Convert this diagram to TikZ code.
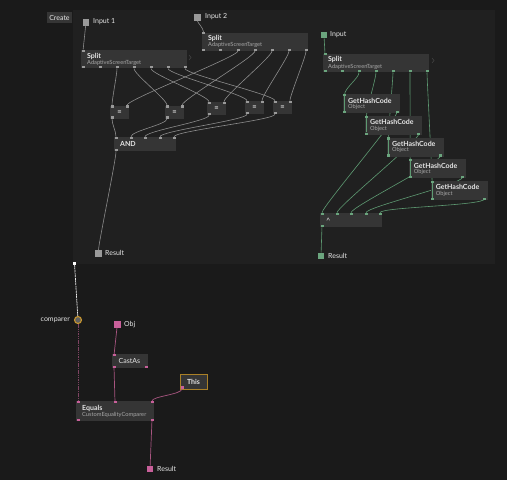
\documentclass[tikz,border=0pt]{standalone}
\usepackage{fontspec}
\setmainfont{Lato}
\definecolor{bg}{HTML}{1A1A1A}
\definecolor{panel}{HTML}{202020}
\definecolor{nodefill}{HTML}{353535}
\definecolor{gport}{HTML}{9A9A9A}
\definecolor{gwirec}{HTML}{8C8C8C}
\definecolor{grn}{HTML}{6BA57E}
\definecolor{gwirecg}{HTML}{5E9A72}
\definecolor{pnk}{HTML}{C8609A}
\definecolor{pwirec}{HTML}{A85580}
\definecolor{pdash}{HTML}{7E4462}
\definecolor{org}{HTML}{C8962E}
\definecolor{txt}{HTML}{E6E6E6}
\definecolor{subc}{HTML}{A8A8A8}
\newcommand{\wc}[3]{\draw[#1] (#2) .. controls +(0,7) and +(0,-7) .. (#3);}
\begin{document}
\begin{tikzpicture}[x=1pt,y=-1pt,
  box/.style 2 args={fill=nodefill,inner sep=0,anchor=north west,minimum width=#1,minimum height=#2},
  port/.style={fill=gport,inner sep=0,minimum width=3pt,minimum height=2.2pt},
  gp/.style={port,fill=grn},
  pp/.style={port,fill=pnk},
  sq/.style={inner sep=0,minimum size=6.5pt,fill=gport},
  ttl/.style={font=\fontsize{7}{8}\selectfont\bfseries,text=txt,anchor=west,inner sep=0},
  subt/.style={font=\fontsize{5.7}{6}\selectfont,text=subc,anchor=west,inner sep=0},
  lbl/.style={font=\fontsize{7}{8}\selectfont,text=txt,anchor=west,inner sep=0},
  wire/.style={draw=gwirec,line width=0.6pt},
  gw/.style={draw=gwirecg,line width=0.6pt},
  pw/.style={draw=pwirec,line width=0.7pt},
  chev/.style={draw=gray!60!black,line width=0.4pt}
]
\useasboundingbox (0,0) rectangle (507,480);
\fill[bg] (0,0) rectangle (507,480);
\fill[panel] (73,10) rectangle (495,264);

% ---------- left group ----------
\node[box={25pt}{11pt}] (create) at (47,12) {};
\node[lbl,anchor=center] (createt) at (59.5,17.5) {Create};

\node[sq] (in1) at (86,22.5) {};
\node[lbl] (in1t) at (93,22) {Input 1};
\node[sq] (in2) at (197.5,17.5) {};
\node[lbl] (in2t) at (205,17) {Input 2};

% Split 1 / 2 bodies
\node[box={106pt}{18pt}] (sp1) at (81,50) {};
\node[ttl] (sp1t) at (87,56.5) {Split};
\node[subt] (sp1s) at (87,63.3) {AdaptiveScreenTarget};
\draw[chev] (189,55) -- (191,57.5) -- (189,60);
\node[box={106pt}{18pt}] (sp2) at (202,32.5) {};
\node[ttl] (sp2t) at (208,38.5) {Split};
\node[subt] (sp2s) at (208,45.3) {AdaptiveScreenTarget};

\node[port] (s1t) at (83,50.8) {};
\foreach \i/\x in {1/83,2/100,3/117,4/134,5/151,6/168,7/185}
  \node[port] (s1p\i) at (\x,67.2) {};
\node[port] (s2t) at (203.5,33.3) {};
\foreach \i/\x in {1/203.5,2/220.5,3/238,4/255,5/272,6/289,7/306}
  \node[port] (s2p\i) at (\x,49.7) {};

% equals nodes
\foreach \k/\x/\y in {1/110/105.5,2/165/105.5,3/207/102,4/245/101,5/273/101}{
  \node[box={19pt}{13pt}] (eq\k) at (\x,\y) {};
  \node[port] (eq\k a) at (\x+2,\y+1) {};
  \node[port] (eq\k b) at (\x+17,\y+1) {};
  \node[port] (eq\k o) at (\x+2,\y+12) {};
}

% AND
\node[box={62pt}{14pt}] (and) at (114,137) {};
\node[ttl] (andt) at (120,144) {AND};
\foreach \k/\x in {1/116,2/131,3/145,4/160,5/174}
  \node[port] (and\k) at (\x,138) {};
\node[port] (ando) at (116,150) {};

\node[sq] (res1) at (98.5,253.5) {};
\node[lbl] (res1t) at (105,253) {Result};

% left wires
\draw[wire] (in1) -- (s1t);
\draw[wire] (in2) .. controls +(0,5) and +(0,-5) .. (s2t);
\foreach \k in {1,...,5}{
  \pgfmathtruncatemacro{\p}{\k+2}
  \wc{wire}{s1p\p}{eq\k a}
  \wc{wire}{s2p\p}{eq\k b}
  \wc{wire}{eq\k o}{and\k}
}
\draw[wire] (ando) .. controls +(0,10) and +(0,-10) .. (res1);

% redraw equals bodies over wires
\foreach \k/\x/\y in {1/110/105.5,2/165/105.5,3/207/102,4/245/101,5/273/101}{
  \fill[nodefill] (\x,\y+2.2) rectangle (\x+19,\y+10.8);
  \node[font=\fontsize{7.5}{7.5}\selectfont\bfseries,text=txt,inner sep=0] (eq\k u) at (\x+9.5,\y+6.8) {=};
}

% ---------- right group ----------
\node[sq,fill=grn] (in3) at (324,35) {};
\node[lbl] (in3t) at (330,34.5) {Input};
\node[box={106pt}{18.5pt}] (sp3) at (323,53.5) {};
\node[ttl] (sp3t) at (328,59.5) {Split};
\node[subt] (sp3s) at (328,66.5) {AdaptiveScreenTarget};
\draw[chev] (432,58) -- (434,60.5) -- (432,63);
\node[gp] (s3t) at (325,54.3) {};
\foreach \i/\x in {1/325,2/342,3/359,4/376,5/393,6/410,7/427}
  \node[gp] (s3p\i) at (\x,71.2) {};

% caret node
\node[box={62pt}{14pt}] (cj) at (320,213) {};
\node[lbl,font=\fontsize{7.5}{8}\selectfont] (cjt) at (326,221) {\^{}};
\foreach \k/\x in {1/322,2/337,3/351,4/366,5/380}
  \node[gp] (cj\k) at (\x,214) {};
\node[gp] (cjo) at (322,226) {};
\node[sq,fill=grn] (res2) at (321,256) {};
\node[lbl] (res2t) at (328,256) {Result};

% wires (drawn below the GetHashCode nodes)
\draw[gw] (in3) -- (s3t);
\foreach \k in {1,...,5}{
  \pgfmathsetmacro{\hx}{343+21.9*(\k-1)}
  \pgfmathsetmacro{\hy}{94+21.7*(\k-1)}
  \coordinate (h\k ta0) at (\hx+1.5,\hy+1);
  \coordinate (h\k br0) at (\hx+54,\hy+18);
}
\foreach \k in {1,...,5}{
  \pgfmathtruncatemacro{\p}{\k+2}
  \wc{gw}{s3p\p}{h\k ta0}
  \wc{gw}{h\k br0}{cj\k}
}
\draw[gw] (cjo) -- (res2);

\foreach \k in {1,...,5}{
  \pgfmathsetmacro{\hx}{343+21.9*(\k-1)}
  \pgfmathsetmacro{\hy}{94+21.7*(\k-1)}
  \node[box={57pt}{19pt}] (h\k) at (\hx,\hy) {};
  \node[ttl] (h\k t) at (\hx+5,\hy+6.5) {GetHashCode};
  \node[subt] (h\k s) at (\hx+5,\hy+13) {Object};
  \node[gp] (h\k ta) at (\hx+1.5,\hy+1) {};
  \node[gp] (h\k ba) at (\hx+1.5,\hy+18) {};
  \node[gp] (h\k br) at (\hx+54,\hy+18) {};
  \draw[gw] (h\k ta) -- (h\k ba);
}

% ---------- bottom group ----------
\node[port,fill=white] (cmpin) at (74.5,263.5) {};
\node[circle,draw=org,fill=gray!75!black,line width=1.1pt,minimum size=7pt,inner sep=0] (cmp) at (78,320) {};
\node[lbl,anchor=east] (cmpt) at (70,320) {comparer};
\draw[white!85!gray,dash pattern=on 2pt off 0.6pt,line width=0.7pt] (cmpin) -- (cmp);

\node[sq,fill=pnk] (obj) at (117.3,324.7) {};
\node[lbl] (objt) at (124,324.5) {Obj};

\node[box={36pt}{14pt}] (ca) at (112,354) {};
\node[lbl] (cat) at (118.5,361) {CastAs};
\node[pp] (cat0) at (114,355.3) {};
\node[pp] (cabl) at (114,366.7) {};
\node[pp] (cabr) at (146,366.7) {};

\node[box={27pt}{15pt},draw=org!85!black,line width=0.9pt] (th) at (180,374) {};
\node[lbl,anchor=center,font=\fontsize{7}{8}\selectfont\bfseries] (tht) at (193.5,381.5) {This};
\node[pp] (thp) at (182,387.5) {};

\node[box={78pt}{20pt}] (eqn) at (76,401) {};
\node[ttl] (eqnt) at (82,408) {Equals};
\node[subt] (eqns) at (82,414.8) {CustomEqualityComparer};
\node[pp] (eqa) at (78,402.3) {};
\node[pp] (eqm) at (115,402.3) {};
\node[pp] (eqr) at (152,402.3) {};
\node[pp] (eqbl) at (78,419.7) {};
\node[pp] (eqbr) at (152,419.7) {};

\node[sq,fill=pnk] (res3) at (150,469) {};
\node[lbl] (res3t) at (157,469) {Result};

\draw[pdash,dash pattern=on 1.5pt off 0.8pt,line width=0.8pt] (cmp) -- (eqa);
\draw[pw] (obj) -- (cat0);
\draw[pw] (cabl) -- (eqm);
\draw[pw] (thp) .. controls +(0,7) and +(0,-6) .. (eqr);
\draw[pw] (eqbr) -- (res3);
\end{tikzpicture}
\end{document}
